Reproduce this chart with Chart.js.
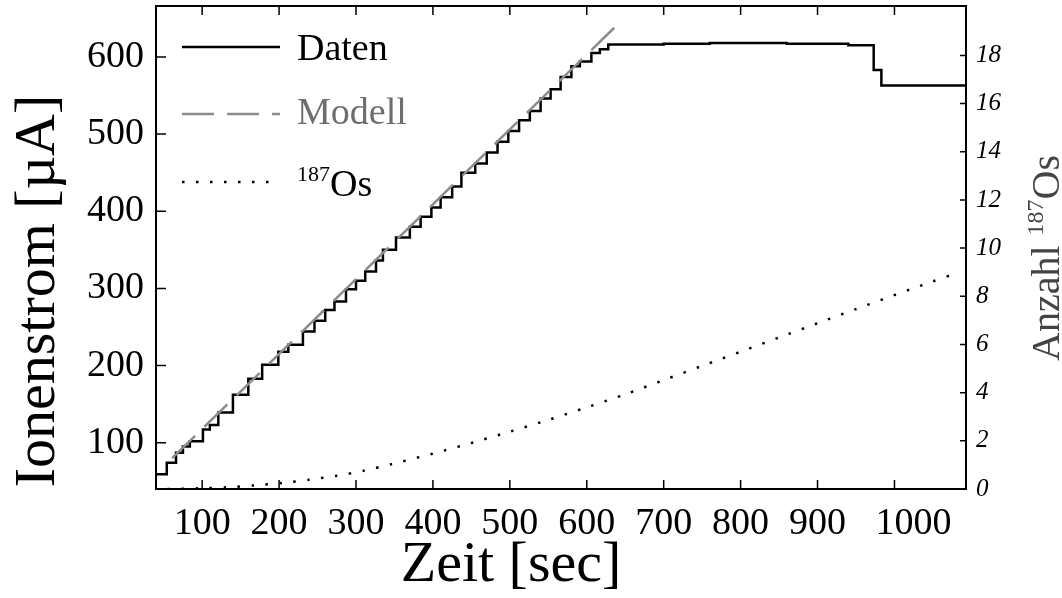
<!DOCTYPE html>
<html>
<head>
<meta charset="utf-8">
<script src="https://cdn.jsdelivr.net/npm/chart.js@4.4.0/dist/chart.umd.min.js"></script>
<style>
  html, body { margin: 0; padding: 0; background: #fff; }
  #wrap { width: 1062px; height: 598px; }
</style>
</head>
<body>
<div id="wrap"><canvas id="chart" width="1062" height="598"></canvas></div>
<script>
// Tick labels
const timeTicks = [100, 200, 300, 400, 500, 600, 700, 800, 900, 1000];
const currentTicks = [100, 200, 300, 400, 500, 600];
const countTicks = [0, 2, 4, 6, 8, 10, 12, 14, 16, 18];

// Daten: ion current [µA], each level starts at the given time [sec]
const datenTime = [40, 54, 66, 75, 84, 101, 110, 121, 140, 160, 178, 199, 212, 231, 246, 260, 272, 287, 300, 312, 326, 335, 352, 370, 384, 398, 410, 425, 437, 455, 470, 484, 498, 512, 526, 540, 553, 566, 580, 591, 606, 617, 628, 700, 760, 860, 940, 973, 983, 1093];
const datenCurrent = [59, 74, 87, 95, 102, 117, 123, 139, 162, 183, 201, 218, 227, 244, 258, 272, 283, 299, 310, 322, 336, 350, 366, 380, 393, 405, 418, 432, 450, 462, 476, 490, 504, 518, 530, 546, 558, 574, 588, 594, 605, 610, 616, 617, 618, 617, 615, 583, 563, 562];

// Modell: linear ramp
const modellTime = [61, 637];
const modellCurrent = [80, 639];

// Anzahl 187Os (right axis)
const osTime = [55, 97, 132, 168, 204, 240, 275, 310, 346, 400, 450, 500, 550, 600, 650, 700, 750, 800, 850, 900, 950, 1000, 1050, 1080];
const osCount = [0, 0.03, 0.07, 0.15, 0.25, 0.39, 0.55, 0.76, 1.03, 1.47, 1.91, 2.38, 2.87, 3.39, 3.93, 4.52, 5.11, 5.7, 6.29, 6.88, 7.47, 8.05, 8.62, 8.95];

const serif = "'Liberation Serif', 'Times New Roman', serif";
const toPoints = (xs, ys) => xs.map((x, i) => ({ x: x, y: ys[i] }));

const datasets = [
    {
        label: 'Modell',
        data: toPoints(modellTime, modellCurrent),
        yAxisID: 'y',
        borderColor: '#8c8c8c',
        borderWidth: 2.5,
        borderDash: [32, 13],
        order: 0
    },
    {
        label: 'Daten',
        data: toPoints(datenTime, datenCurrent),
        yAxisID: 'y',
        stepped: 'before',
        borderColor: '#000',
        borderWidth: 2.5,
        order: 1
    },
    {
        label: '187Os',
        data: toPoints(osTime, osCount),
        yAxisID: 'y1',
        borderColor: '#000',
        borderWidth: 2.5,
        borderDash: [2.5, 11.5],
        tension: 0.3,
        order: 2
    }
];

// no extra room for the first/last tick labels, the frame is fixed
const noPadding = s => {
    s.paddingTop = 0; s.paddingBottom = 0;
    s.paddingLeft = 0; s.paddingRight = 0;
};

// frame, inward ticks, axis titles and the legend inside the plot
const framePlugin = {
    id: 'framePlugin',
    afterDraw(chart) {
        const { ctx, chartArea: a, scales } = chart;
        ctx.save();

        ctx.strokeStyle = '#000';
        ctx.lineWidth = 2;
        ctx.strokeRect(a.left, a.top, a.right - a.left, a.bottom - a.top);

        ctx.lineWidth = 1.5;
        ctx.beginPath();
        timeTicks.forEach(v => {
            const x = scales.x.getPixelForValue(v);
            ctx.moveTo(x, a.bottom); ctx.lineTo(x, a.bottom - 9);
            ctx.moveTo(x, a.top); ctx.lineTo(x, a.top + 9);
        });
        currentTicks.forEach(v => {
            const y = scales.y.getPixelForValue(v);
            ctx.moveTo(a.left, y); ctx.lineTo(a.left + 10, y);
        });
        countTicks.forEach(v => {
            const y = scales.y1.getPixelForValue(v);
            ctx.moveTo(a.right, y); ctx.lineTo(a.right - 6, y);
        });
        ctx.stroke();

        // Axis titles
        ctx.fillStyle = '#000';
        ctx.textAlign = 'center';
        ctx.textBaseline = 'middle';
        ctx.font = '58px ' + serif;
        ctx.fillText('Zeit [sec]', 511, 566);

        ctx.save();
        ctx.translate(39, 291);
        ctx.rotate(-Math.PI / 2);
        ctx.fillText('Ionenstrom [µA]', 0, 0);
        ctx.restore();

        // Right title with superscript
        ctx.save();
        ctx.translate(1046, 258);
        ctx.rotate(-Math.PI / 2);
        ctx.fillStyle = '#444';
        ctx.textBaseline = 'alphabetic';
        ctx.textAlign = 'left';
        const big = '40px ' + serif, small = '24px ' + serif;
        ctx.font = big;
        const w1 = ctx.measureText('Anzahl ').width;
        const w3 = ctx.measureText('Os').width;
        ctx.font = small;
        const w2 = ctx.measureText('187').width;
        const x0 = -(w1 + w2 + w3) / 2;
        ctx.font = big;
        ctx.fillText('Anzahl ', x0, 13);
        ctx.font = small;
        ctx.fillText('187', x0 + w1, -3);
        ctx.font = big;
        ctx.fillText('Os', x0 + w1 + w2, 13);
        ctx.restore();

        // Legend
        const rows = [
            { ds: datasets[1], y: 47 },
            { ds: datasets[0], y: 114 },
            { ds: datasets[2], y: 182 }
        ];
        rows.forEach(r => {
            ctx.beginPath();
            ctx.strokeStyle = r.ds.borderColor;
            ctx.lineWidth = r.ds.borderWidth;
            ctx.setLineDash(r.ds.borderDash || []);
            ctx.moveTo(182, r.y);
            ctx.lineTo(280, r.y);
            ctx.stroke();
        });
        ctx.setLineDash([]);
        ctx.textAlign = 'left';
        ctx.textBaseline = 'alphabetic';
        ctx.font = '38px ' + serif;
        ctx.fillStyle = '#000';
        ctx.fillText('Daten', 297, 60);
        ctx.fillStyle = '#6e6e6e';
        ctx.fillText('Modell', 297, 124);
        ctx.fillStyle = '#000';
        ctx.font = '22px ' + serif;
        ctx.fillText('187', 297, 181);
        const ws = ctx.measureText('187').width;
        ctx.font = '38px ' + serif;
        ctx.fillText('Os', 297 + ws, 196);

        ctx.restore();
    }
};

new Chart(document.getElementById('chart'), {
    type: 'line',
    data: { datasets: datasets },
    options: {
        responsive: false,
        animation: false,
        devicePixelRatio: 1,
        layout: { padding: { top: 6, right: 0, bottom: 0, left: 0 } },
        elements: { point: { radius: 0 }, line: { fill: false } },
        plugins: {
            legend: { display: false },
            tooltip: { enabled: false }
        },
        scales: {
            x: {
                type: 'linear',
                position: 'bottom',
                min: 40,
                max: 1093,
                afterBuildTicks: s => { s.ticks = timeTicks.map(v => ({ value: v })); },
                afterFit: s => { s.height = 109; noPadding(s); },
                grid: { display: false, drawTicks: false },
                border: { display: false },
                ticks: {
                    color: '#000',
                    padding: 12,
                    maxRotation: 0,
                    autoSkip: false,
                    font: { family: serif, size: 38 },
                    // the last label sits a little right of its tick in the original
                    callback: v => (v === 1000 ? '\u2002\u2002' : '') + String(v)
                }
            },
            y: {
                type: 'linear',
                position: 'left',
                min: 40,
                max: 666,
                afterBuildTicks: s => { s.ticks = currentTicks.map(v => ({ value: v })); },
                afterFit: s => { s.width = 156; noPadding(s); },
                grid: { display: false, drawTicks: false },
                border: { display: false },
                ticks: {
                    color: '#000',
                    padding: 12,
                    font: { family: serif, size: 38 },
                    callback: v => String(v)
                }
            },
            y1: {
                type: 'linear',
                position: 'right',
                min: 0,
                max: 20.05,
                afterBuildTicks: s => { s.ticks = countTicks.map(v => ({ value: v })); },
                afterFit: s => { s.width = 96; noPadding(s); },
                grid: { display: false, drawTicks: false },
                border: { display: false },
                ticks: {
                    color: '#000',
                    padding: 10,
                    font: { family: serif, size: 25, style: 'italic' },
                    callback: v => String(v)
                }
            }
        }
    },
    plugins: [framePlugin]
});
</script>
</body>
</html>
